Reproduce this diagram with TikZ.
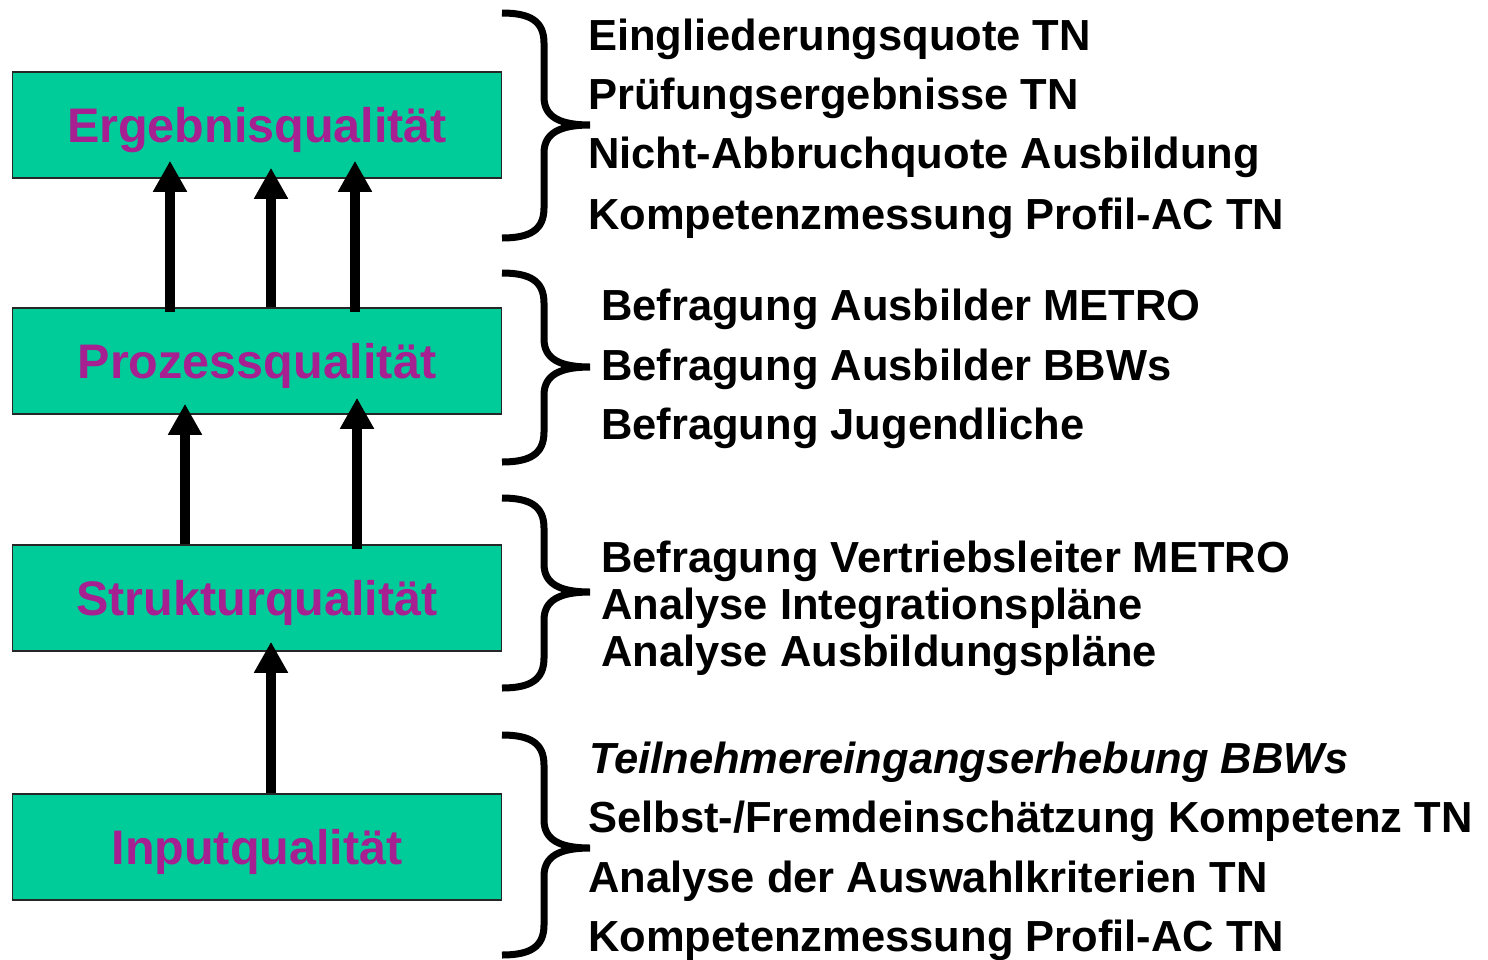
\documentclass[tikz,border=0pt]{standalone}
\usepackage{fontspec}
\setmainfont{Liberation Sans}
\usetikzlibrary{arrows.meta}
\definecolor{boxgreen}{RGB}{0,204,153}
\definecolor{labelmag}{RGB}{166,32,145}
\newcommand\qbrace[3]{\draw[brc] (502,#1) .. controls (530,#1) and (544,{#1+8}) .. (544,{#1+30}) -- (544,{#2-28}) .. controls (544,{#2-8}) and (560,#2) .. (590,#2) .. controls (560,#2) and (544,{#2+8}) .. (544,{#2+28}) -- (544,{#3-30}) .. controls (544,{#3-8}) and (530,#3) .. (502,#3);}
\begin{document}
\begin{tikzpicture}[x=1pt,y=-1pt,
  qbox/.style={draw=black!85, line width=1.5pt, fill=boxgreen, minimum width=489pt, minimum height=106pt, inner sep=0pt, text=labelmag, font=\fontsize{48.5}{48.5}\selectfont\bfseries, text height=34.8pt, text depth=0pt},
  upar/.style={line width=10.5pt, -{Triangle[width=32pt,length=31pt]}},
  brc/.style={line width=7pt, line cap=butt},
  item/.style={anchor=base west, inner sep=0pt, font=\fontsize{43.5}{43.5}\selectfont\bfseries}]
\useasboundingbox (0,0) rectangle (1488,959);
% boxes
\node[qbox] (erg) at (257,125) {Ergebnisqualität};
\node[qbox] (proz) at (257,361) {Prozessqualität};
\node[qbox] (struk) at (257,598) {Strukturqualität};
\node[qbox] (inp) at (257,847) {Inputqualität};
% arrow columns
\coordinate (xa) at (170,0);
\coordinate (xb) at (271,0);
\coordinate (xc) at (355,0);
\coordinate (xd) at (185,0);
\coordinate (xe) at (357,0);
% arrows
\draw[upar, shorten <=-5pt, shorten >=-18pt] (proz.north -| xa) -- (erg.south -| xa);
\draw[upar, shorten >=-11pt] (proz.north -| xb) -- (erg.south -| xb);
\draw[upar, shorten <=-5pt, shorten >=-18pt] (proz.north -| xc) -- (erg.south -| xc);
\draw[upar, shorten >=-11pt] (struk.north -| xd) -- (proz.south -| xd);
\draw[upar, shorten <=-5pt, shorten >=-17pt] (struk.north -| xe) -- (proz.south -| xe);
\draw[upar, shorten >=-10pt] (inp.north -| xb) -- (struk.south -| xb);
% braces
\qbrace{13}{125}{238}
\qbrace{273}{367}{462}
\qbrace{498}{592}{688}
\qbrace{735}{848}{955}
% texts
\node[item] (t1) at (588,50) {Eingliederungsquote TN};
\node[item] (t2) at (588,109) {Prüfungsergebnisse TN};
\node[item] (t3) at (588,168) {Nicht-Abbruchquote Ausbildung};
\node[item] (t4) at (588,229) {Kompetenzmessung Profil-AC TN};
\node[item] (t5) at (601,320) {Befragung Ausbilder METRO};
\node[item] (t6) at (601,380) {Befragung Ausbilder BBWs};
\node[item] (t7) at (601,439) {Befragung Jugendliche};
\node[item] (t8) at (601,572) {Befragung Vertriebsleiter METRO};
\node[item] (t9) at (601,619) {Analyse Integrationspläne};
\node[item] (t10) at (601,666) {Analyse Ausbildungspläne};
\node[item] (t11) at (589,773) {\itshape Teilnehmereingangserhebung BBWs};
\node[item] (t12) at (588,832) {Selbst-/Fremdeinschätzung Kompetenz TN};
\node[item] (t13) at (588,892) {Analyse der Auswahlkriterien TN};
\node[item] (t14) at (588,951) {Kompetenzmessung Profil-AC TN};
\end{tikzpicture}
\end{document}
